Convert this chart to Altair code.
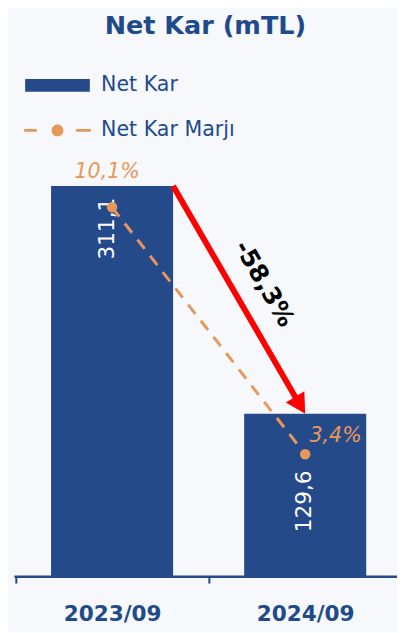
import altair as alt
import pandas as pd

# ---- data ----
periods = ["2023/09", "2024/09"]
net_kar = [311.1, 129.6]
net_kar_labels = ["311,1", "129,6"]
margin = [10.1, 3.4]
margin_labels = ["10,1%", "3,4%"]
change_label = "-58,3%"
series = ["Net Kar", "Net Kar Marjı"]

BLUE = "#244A8A"
TXT = "#1F4A8C"
ORANGE = "#E8975A"
RED = "#FF0000"
FONT = "DejaVu Sans"

df = pd.DataFrame({
    "period": periods,
    "net_kar": net_kar,
    "nk_lbl": net_kar_labels,
    "margin": margin,
    "m_lbl": margin_labels,
})
arrow_df = pd.DataFrame({
    "start": [periods[0]], "end": [periods[1]],
    "v0": [net_kar[0]], "v1": [net_kar[1]], "lbl": [change_label],
})
legend_df = pd.DataFrame({"series": series})

xscale = alt.Scale(domain=periods, paddingInner=0.368, paddingOuter=0.176, align=0.547)
xaxis = alt.Axis(title=None, labelAngle=0, labelFont=FONT, labelFontSize=22,
                 labelFontWeight="bold", labelColor=TXT, domainColor=BLUE,
                 domainWidth=2.5, tickColor=BLUE, tickWidth=2, tickSize=7,
                 tickOffset=-98.5, labelOffset=98.5, labelPadding=21, grid=False)
y1 = alt.Scale(domain=[0, 350])
y2 = alt.Scale(domain=[0.09, 12.0])

X = alt.X("period:N", scale=xscale, axis=xaxis)

base = alt.Chart(df)

bars = base.mark_bar(color=BLUE).encode(
    x=X, y=alt.Y("net_kar:Q", scale=y1, axis=None))

val1 = base.transform_filter(alt.datum.period == periods[0]).mark_text(
    angle=270, align="right", baseline="middle", dx=-12, dy=-5,
    font=FONT, fontSize=22, color="white").encode(
    x=X, y=alt.Y("net_kar:Q", scale=y1, axis=None), text="nk_lbl:N")
val2 = base.transform_filter(alt.datum.period == periods[1]).mark_text(
    angle=270, align="right", baseline="middle", dx=-58, dy=-1,
    font=FONT, fontSize=22, color="white").encode(
    x=X, y=alt.Y("net_kar:Q", scale=y1, axis=None), text="nk_lbl:N")

line = base.mark_line(color=ORANGE, strokeWidth=3, strokeDash=[12, 9]).encode(
    x=X, y=alt.Y("margin:Q", scale=y2, axis=None))
pts = base.mark_point(filled=True, color=ORANGE, size=115, opacity=1).encode(
    x=X, y=alt.Y("margin:Q", scale=y2, axis=None))
ml1 = base.transform_filter(alt.datum.period == periods[0]).mark_text(
    font=FONT, fontSize=21, fontStyle="italic", color=ORANGE,
    dx=-5, dy=-36).encode(
    x=X, y=alt.Y("margin:Q", scale=y2, axis=None), text="m_lbl:N")
ml2 = base.transform_filter(alt.datum.period == periods[1]).mark_text(
    font=FONT, fontSize=21, fontStyle="italic", color=ORANGE,
    dx=31, dy=-18).encode(
    x=X, y=alt.Y("margin:Q", scale=y2, axis=None), text="m_lbl:N")

abase = alt.Chart(arrow_df)
shaft = abase.mark_rule(color=RED, strokeWidth=6, x2Offset=-6, y2Offset=-10).encode(
    x=alt.X("start:N", scale=xscale, axis=xaxis, bandPosition=1),
    x2=alt.X2("end:N", bandPosition=0.5),
    y=alt.Y("v0:Q", scale=y1, axis=None),
    y2="v1:Q")
head = abase.mark_point(shape="M0,0L-0.55,-1L0.55,-1Z", size=1600, filled=True,
                        color=RED, opacity=1, angle=329).encode(
    x=alt.X("end:N", scale=xscale, axis=xaxis),
    y=alt.Y("v1:Q", scale=y1, axis=None))
alabel = abase.transform_calculate(mid="(datum.v0 + datum.v1) / 2").mark_text(
    angle=60, font=FONT, fontSize=25, fontWeight="bold", color="black",
    dx=-4, dy=-26).encode(
    x=alt.X("end:N", scale=xscale, axis=xaxis, bandPosition=0),
    y=alt.Y("mid:Q", scale=y1, axis=None),
    text="lbl:N")

rect_path = "M-3.3,-0.65H3.3V0.65H-3.3Z"
dash_path = ("M-3.4,-0.15H-2.1V0.15H-3.4Z M1.9,-0.15H3.4V0.15H1.9Z "
             "M0.6,0A0.6,0.6 0 1,1 -0.6,0A0.6,0.6 0 1,1 0.6,0Z")
leg = alt.Legend(title=None, orient="none", legendX=34, legendY=-63.5,
                 symbolSize=400, symbolStrokeWidth=0, symbolOpacity=1,
                 labelFont=FONT, labelFontSize=21, labelColor=TXT,
                 labelOffset=34, rowPadding=24, padding=0)
legend_layer = alt.Chart(legend_df).transform_filter("false").mark_point(
    filled=True, size=400).encode(
    color=alt.Color("series:N", scale=alt.Scale(domain=series, range=[BLUE, ORANGE]),
                    legend=leg, sort=None),
    shape=alt.Shape("series:N", scale=alt.Scale(domain=series, range=[rect_path, dash_path]),
                    legend=leg, sort=None))

chart = alt.layer(
    bars, val1, val2, line, pts, ml1, ml2, shaft, head, alabel, legend_layer
).resolve_scale(y="independent").properties(
    width=391, height=448,
    title=alt.TitleParams("Net Kar (mTL)", font=FONT, fontSize=26, fontWeight="bold",
                          color=TXT, anchor="middle", offset=37),
    autosize=alt.AutoSizeParams(type="none"),
    padding={"left": 6, "top": 125.5, "right": 0, "bottom": 50},
    background="#F6F8FB",
).configure_view(stroke=None)

chart.save("out.html", embed_options={"renderer": "svg", "actions": False})
